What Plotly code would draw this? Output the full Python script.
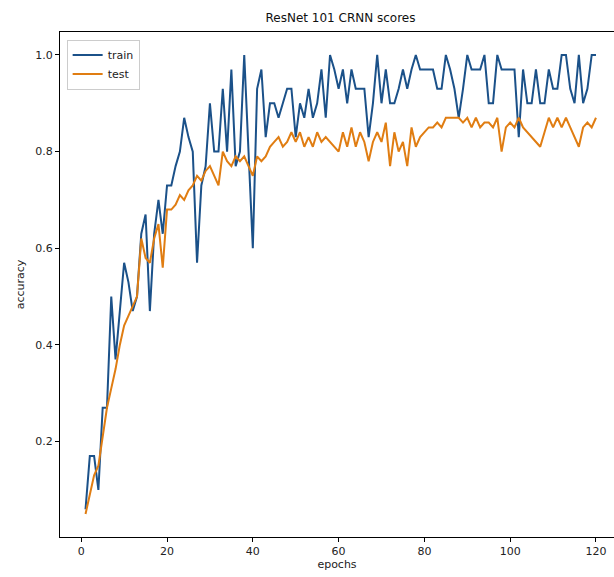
import plotly.graph_objects as go

epochs = list(range(1, 121))

train = [0.06, 0.17, 0.17, 0.10, 0.27, 0.27, 0.50, 0.37, 0.47, 0.57,
         0.53, 0.47, 0.50, 0.63, 0.67, 0.47, 0.63, 0.70, 0.63, 0.73,
         0.73, 0.77, 0.80, 0.87, 0.83, 0.80, 0.57, 0.73, 0.77, 0.90,
         0.80, 0.80, 0.93, 0.80, 0.97, 0.77, 0.80, 1.00, 0.80, 0.60,
         0.93, 0.97, 0.83, 0.90, 0.90, 0.87, 0.90, 0.93, 0.93, 0.83,
         0.90, 0.87, 0.93, 0.87, 0.90, 0.97, 0.87, 1.00, 0.97, 0.93,
         0.97, 0.90, 0.97, 0.93, 0.93, 0.93, 0.83, 0.90, 1.00, 0.90,
         0.97, 0.90, 0.90, 0.93, 0.97, 0.93, 0.97, 1.00, 0.97, 0.97,
         0.97, 0.97, 0.93, 0.93, 1.00, 0.97, 0.93, 0.87, 0.93, 1.00,
         0.97, 0.97, 0.97, 1.00, 0.90, 0.90, 1.00, 0.97, 0.97, 0.97,
         0.97, 0.83, 0.97, 0.90, 0.90, 0.97, 0.90, 0.90, 0.97, 0.93,
         0.93, 1.00, 1.00, 0.93, 0.90, 1.00, 0.90, 0.93, 1.00, 1.00]

test = [0.05, 0.09, 0.13, 0.15, 0.21, 0.27, 0.31, 0.35, 0.40, 0.44,
        0.46, 0.48, 0.50, 0.62, 0.58, 0.57, 0.62, 0.65, 0.56, 0.68,
        0.68, 0.69, 0.71, 0.70, 0.72, 0.73, 0.75, 0.74, 0.76, 0.77,
        0.75, 0.73, 0.80, 0.78, 0.77, 0.79, 0.78, 0.79, 0.77, 0.75,
        0.79, 0.78, 0.79, 0.81, 0.82, 0.83, 0.81, 0.82, 0.84, 0.82,
        0.84, 0.81, 0.83, 0.81, 0.84, 0.82, 0.83, 0.82, 0.81, 0.80,
        0.84, 0.81, 0.85, 0.81, 0.84, 0.82, 0.78, 0.82, 0.84, 0.82,
        0.86, 0.77, 0.84, 0.80, 0.82, 0.77, 0.85, 0.81, 0.83, 0.84,
        0.85, 0.85, 0.86, 0.85, 0.87, 0.87, 0.87, 0.87, 0.86, 0.87,
        0.85, 0.87, 0.85, 0.86, 0.86, 0.85, 0.87, 0.80, 0.85, 0.86,
        0.85, 0.87, 0.85, 0.84, 0.83, 0.82, 0.81, 0.84, 0.87, 0.85,
        0.87, 0.85, 0.87, 0.85, 0.83, 0.81, 0.85, 0.86, 0.85, 0.87]

x_ticks = [0, 20, 40, 60, 80, 100, 120]
y_ticks = [0.2, 0.4, 0.6, 0.8, 1.0]

fig = go.Figure()
fig.add_trace(go.Scatter(x=epochs, y=train, mode="lines", name="train",
                         line=dict(color="#1b5189", width=2)))
fig.add_trace(go.Scatter(x=epochs, y=test, mode="lines", name="test",
                         line=dict(color="#e07d12", width=2)))

axis_common = dict(showline=True, linecolor="black", linewidth=1.2, mirror=True,
                   ticks="outside", ticklen=4, tickcolor="black", showgrid=False,
                   zeroline=False, automargin=False,
                   tickfont=dict(family="DejaVu Sans", size=11, color="#222"))

fig.update_layout(
    width=614, height=577,
    margin=dict(l=60, r=0, t=32, b=40, autoexpand=False),
    paper_bgcolor="white", plot_bgcolor="white",
    font=dict(family="DejaVu Sans", color="#222"),
    title=dict(text="ResNet 101 CRNN scores", x=(60 + 621) / 2 / 614, xanchor="center",
               y=1 - 18 / 577, yanchor="middle", font=dict(size=12, color="#111")),
    xaxis=dict(range=[-4.95, 124.2], tickvals=x_ticks,
               title=dict(text="epochs", font=dict(size=11), standoff=2), **axis_common),
    yaxis=dict(range=[0.0025, 1.0475], tickvals=y_ticks, tickformat=".1f",
               title=dict(text="accuracy", font=dict(size=11), standoff=8), **axis_common),
    legend=dict(x=0.012, y=0.985, xanchor="left", yanchor="top",
                bgcolor="rgba(255,255,255,0.8)", bordercolor="#cccccc", borderwidth=1,
                font=dict(size=11), tracegroupgap=0),
    showlegend=True,
)

fig.write_html("out.html", config={"displayModeBar": False},
               post_script="document.body.style.margin='0';document.body.style.padding='0';")
